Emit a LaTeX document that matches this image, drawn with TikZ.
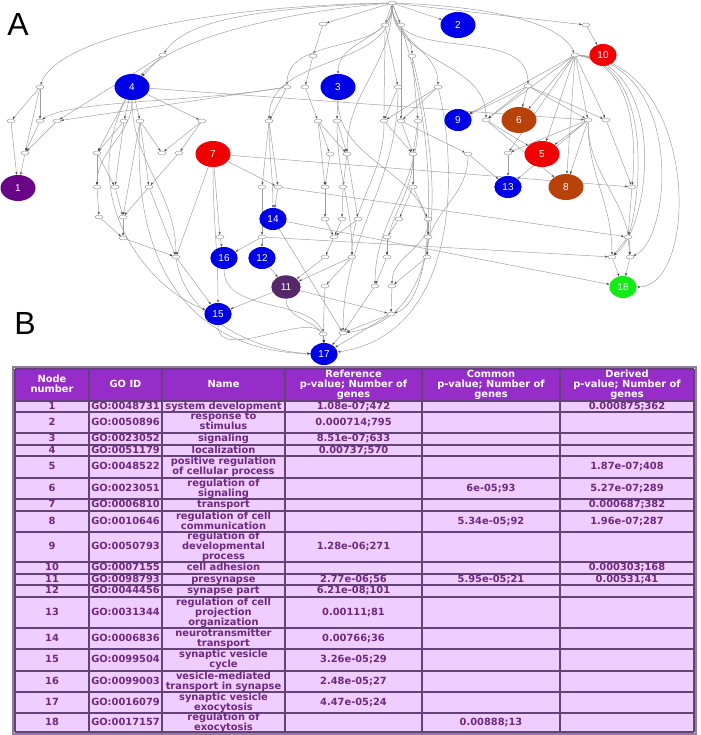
\documentclass[tikz,border=0pt]{standalone}
\usepackage{fontspec}
\setmainfont{Liberation Sans}
\newfontfamily\tabfont{DejaVu Sans}
\usetikzlibrary{arrows.meta,shapes.geometric}
\definecolor{nblue}{RGB}{0,0,230}
\definecolor{nred}{RGB}{240,0,0}
\definecolor{nbrown}{RGB}{185,65,10}
\definecolor{npurple}{RGB}{105,5,135}
\definecolor{ndpurple}{RGB}{85,40,105}
\definecolor{ngreen}{RGB}{20,235,20}
\definecolor{edgec}{RGB}{158,158,158}
\definecolor{hdrfill}{RGB}{150,45,200}
\definecolor{cellfill}{RGB}{240,205,255}
\definecolor{gridc}{RGB}{100,65,120}
\definecolor{txtc}{RGB}{110,40,125}
\pgfdeclarelayer{bg}
\pgfsetlayers{bg,main}
\newcommand\cellstrut{\rule[-1.7pt]{0pt}{7.3pt}}
\newcommand\tabrow[7]{%
 \node[cellt] (tn#2) at (52,#1) {#2};
 \node[cellt] (tg#2) at (125.5,#1) {#3};
 \node[cellt] (tm#2) at (223.5,#1) {#4};
 \node[cellt] (tr#2) at (353.5,#1) {#5};
 \node[cellt] (tc#2) at (491,#1) {#6};
 \node[cellt] (td#2) at (627,#1) {#7};}
\begin{document}
\begin{tikzpicture}[x=0.75pt,y=-0.75pt,
  sm/.style={ellipse,draw=black!45,fill=white,line width=0.3pt,minimum width=6pt,minimum height=3pt,inner sep=0pt},
  cn/.style={ellipse,draw=none,inner sep=0pt,text=white,font=\fontsize{7.5}{8}\selectfont},
  big/.style={cn,minimum width=26.25pt,minimum height=19.5pt},
  lit/.style={cn,minimum width=20.5pt,minimum height=16.5pt},
  ed/.style={draw=edgec,line width=0.35pt,-{Stealth[length=2.2pt,width=1.6pt,color=black!75]}},
  cellt/.style={font=\tabfont\bfseries\fontsize{7.4}{7.5}\selectfont,text=txtc,align=center,inner sep=0pt,
     execute at begin node=\cellstrut, execute at end node=\cellstrut},
  hdrt/.style={cellt,text=white},
  gridl/.style={draw=gridc,line width=1.4pt},
  biglabel/.style={font=\fontsize{24}{24}\selectfont,inner sep=0pt}]
\useasboundingbox (0,0) rectangle (700,735);

\node[biglabel] (labA) at (18,24) {A};
\node[biglabel] (labB) at (25,323) {B};

% small graph nodes
\foreach \n/\x/\y in {r/392/3,
 a1/323/24, a2/385/25, a3/401/25, a4/586/25,
 b1/163/55, b2/313/56, b3/412/56, b4/575/55,
 c1/40/87, c2/287/87, c3/305/87, c4/398/87, c5/438/87, c6/528/86,
 d1/11/121, d2/40/121, d3/57/121, d4/124/121, d5/140/121, d6/202/121, d7/269/121, d8/318/121, d9/337/121, d10/384/121, d11/401/121, d12/418/121, d13/486/120, d14/588/120, d15/606/120,
 e1/25/153, e2/97/153, e3/162/153, e4/179/153, e5/330/154, e6/347/154, e7/413/154, e8/468/154, e9/508/153,
 f1/97/187, f2/115/187, f3/149/187, f4/262/187, f5/278/187, f6/325/187, f7/343/187, f8/413/187, f9/632/187,
 g1/99/217, g2/123/217, g3/325/219, g4/342/219, g5/358/219, g6/399/219, g7/428/219,
 h1/123/238, h2/220/237, h3/262/237, h4/334/237, h5/387/237, h6/428/237, h7/628/237,
 i1/176/257, i2/325/257, i3/352/257, i4/387/257, i5/427/257, i6/612/257, i7/630/257,
 j1/325/286, j2/375/286, j3/392/286, k1/391/314, l1/323/334, l2/343/333}
  \node[sm] (\n) at (\x,\y) {};

% coloured nodes
\node[big,fill=npurple] (N1) at (18,188) {1};
\node[big,fill=nblue] (N2) at (458,25) {2};
\node[big,fill=nblue] (N3) at (338,87) {3};
\node[big,fill=nblue] (N4) at (132,87) {4};
\node[big,fill=nred] (N5) at (542,154) {5};
\node[big,fill=nbrown] (N6) at (519,120) {6};
\node[big,fill=nred] (N7) at (213,154) {7};
\node[big,fill=nbrown] (N8) at (566,187) {8};
\node[lit,fill=nblue] (N9) at (458,120) {9};
\node[lit,fill=nred] (N10) at (603,55) {10};
\node[lit,fill=ndpurple,minimum width=22pt,minimum height=17.5pt] (N11) at (286,287) {11};
\node[lit,fill=nblue] (N12) at (262,258) {12};
\node[lit,fill=nblue] (N13) at (508,187) {13};
\node[lit,fill=nblue] (N14) at (273,219) {14};
\node[lit,fill=nblue] (N15) at (218,314) {15};
\node[lit,fill=nblue] (N16) at (224,258) {16};
\node[lit,fill=nblue] (N17) at (324,354) {17};
\node[lit,fill=ngreen] (N18) at (623,287) {18};

\begin{pgfonlayer}{bg}
\fill[white] (0,0) rectangle (700,735);
\foreach \a/\b in {r/N2, r/a1, r/a2, r/a3, r/a4, a1/b2, b2/c3, a2/c4, a3/d11, a4/N10, b3/d12,
 b1/N4, b1/d3, c1/d1, c1/d2, c1/e1, d2/e1, d3/e1, d1/N1, e1/N1,
 N4/d4, N4/d5, N4/d6, N4/e2, d4/e2, d4/f2, d5/e3, d5/f3, d5/g2, d6/e3, d6/e4,
 e2/f1, e2/f2, f1/g1, f2/g2, f3/g2, e4/f3, g1/h1, g2/h1, h1/i1, f3/i1,
 c2/d7, c2/d3, c3/d8, N3/d9, d7/f4, d7/f5, d8/e5, d8/f6, d9/e6, e5/f6, e6/f7, f6/g3, f7/g4, e6/g5,
 g3/h4, g4/h4, g5/h4, h4/i2, i2/N11, i3/j1, i4/j2, i5/j3, j3/k1, j1/l1, j2/l2, k1/l2,
 l1/N17, l2/N17, k1/N17, N7/h2, N7/i1, N7/f5, h2/N16, h3/N16, h3/N12, f4/h3, f5/N14,
 N12/N11, N11/N15, N11/k1, i1/N15, N14/l2,
 c4/d10, c5/d10, c5/d11, d10/e7, d11/e8, d12/e7, e7/f8, f8/g6, f8/g7, g6/h5, g7/h6, h5/i4, h6/i5,
 c6/N9, c6/d13, c6/N6, c6/d14, c6/d15, b4/N9, b4/d13, b4/N6, b4/N5, b4/e9, b4/d14, b4/d15, b4/N8,
 d13/N5, d14/N5, d14/N8, d14/N13, d14/e9, e9/N13, e8/N13, d15/f9, f9/h7, h7/i6, h7/i7, i6/N18, i7/N18,
 N4/d14, N7/f9, f5/h7, h3/i6, N14/N18, d13/N8, d11/e7, d8/e6, i3/N11}
  \draw[ed] (\a) -- (\b);
\foreach \a/\b in {r/c2, r/d7, r/N3, r/b3, r/c5, r/d13, r/c6, r/e6, a2/d10, N4/f1, N4/i1, N7/N15,
 N3/h6, d14/i6, d14/i7, N11/N17, N15/N17, N16/N17, d7/N14, d9/i3, e7/i4, e8/i5, g7/j3, d12/j2, c4/l2, d10/i3}
  \draw[ed] (\a) to[out=-90,in=90] (\b);
\draw[ed] (r) .. controls (200,6) and (55,40) .. (c1);
\draw[ed] (r) .. controls (260,8) and (185,20) .. (b1);
\draw[ed] (r) .. controls (280,12) and (170,40) .. (N4);
\draw[ed] (r) .. controls (480,6) and (560,20) .. (b4);
\draw[ed] (c2) .. controls (200,102) and (70,100) .. (d2);
\draw[ed] (b4) .. controls (700,62) and (700,287) .. (N18);
\draw[ed] (b4) .. controls (685,64) and (672,240) .. (i7);
\draw[ed] (b4) .. controls (668,66) and (652,225) .. (i6);
\draw[ed] (b4) .. controls (655,66) and (640,200) .. (h7);
\draw[ed] (b4) .. controls (640,66) and (635,160) .. (f9);
\draw[ed] (c5) .. controls (460,180) and (455,335) .. (N17);
\draw[ed] (b3) .. controls (448,200) and (440,320) .. (l2);
\draw[ed] (r) .. controls (440,120) and (440,300) .. (k1);
\draw[ed] (d5) .. controls (130,300) and (220,352) .. (N17);
\draw[ed] (N4) .. controls (75,200) and (150,290) .. (N15);
\draw[ed] (i1) .. controls (185,320) and (260,352) .. (N17);
\end{pgfonlayer}

% table
\fill[hdrfill] (15,369) rectangle (694,401);
\fill[cellfill] (15,401) rectangle (694,732);
\foreach \x in {15,89,162,285,422,560,694} \draw[gridl] (\x,369) -- (\x,732);
\foreach \y in {369,401,412,433,445,456,478,499,511,532,562,574,585,597,628,649,671,692,713,732}
  \draw[gridl] (15,\y) -- (694,\y);
\draw[draw=gridc!70,line width=1pt] (13,367) rectangle (696,734);

\node[hdrt] (hn) at (52,385) {Node\\number};
\node[hdrt] (hg) at (125.5,385) {GO ID};
\node[hdrt] (hm) at (223.5,385) {Name};
\node[hdrt] (hr) at (353.5,385) {Reference\\p-value; Number of\\genes};
\node[hdrt] (hc) at (491,385) {Common\\p-value; Number of\\genes};
\node[hdrt] (hd) at (627,385) {Derived\\p-value; Number of\\genes};

\tabrow{406.5}{1}{GO:0048731}{system development}{1.08e-07;472}{}{0.000875;362}
\tabrow{422.5}{2}{GO:0050896}{response to\\stimulus}{0.000714;795}{}{}
\tabrow{439}{3}{GO:0023052}{signaling}{8.51e-07;633}{}{}
\tabrow{450.5}{4}{GO:0051179}{localization}{0.00737;570}{}{}
\tabrow{467}{5}{GO:0048522}{positive regulation\\of cellular process}{}{}{1.87e-07;408}
\tabrow{488.5}{6}{GO:0023051}{regulation of\\signaling}{}{6e-05;93}{5.27e-07;289}
\tabrow{505}{7}{GO:0006810}{transport}{}{}{0.000687;382}
\tabrow{521.5}{8}{GO:0010646}{regulation of cell\\communication}{}{5.34e-05;92}{1.96e-07;287}
\tabrow{547}{9}{GO:0050793}{regulation of\\developmental\\process}{1.28e-06;271}{}{}
\tabrow{568}{10}{GO:0007155}{cell adhesion}{}{}{0.000303;168}
\tabrow{579.5}{11}{GO:0098793}{presynapse}{2.77e-06;56}{5.95e-05;21}{0.00531;41}
\tabrow{591}{12}{GO:0044456}{synapse part}{6.21e-08;101}{}{}
\tabrow{612.5}{13}{GO:0031344}{regulation of cell\\projection\\organization}{0.00111;81}{}{}
\tabrow{638.5}{14}{GO:0006836}{neurotransmitter\\transport}{0.00766;36}{}{}
\tabrow{660}{15}{GO:0099504}{synaptic vesicle\\cycle}{3.26e-05;29}{}{}
\tabrow{681.5}{16}{GO:0099003}{vesicle-mediated\\transport in synapse}{2.48e-05;27}{}{}
\tabrow{702.5}{17}{GO:0016079}{synaptic vesicle\\exocytosis}{4.47e-05;24}{}{}
\tabrow{722.5}{18}{GO:0017157}{regulation of\\exocytosis}{}{0.00888;13}{}
\end{tikzpicture}
\end{document}
